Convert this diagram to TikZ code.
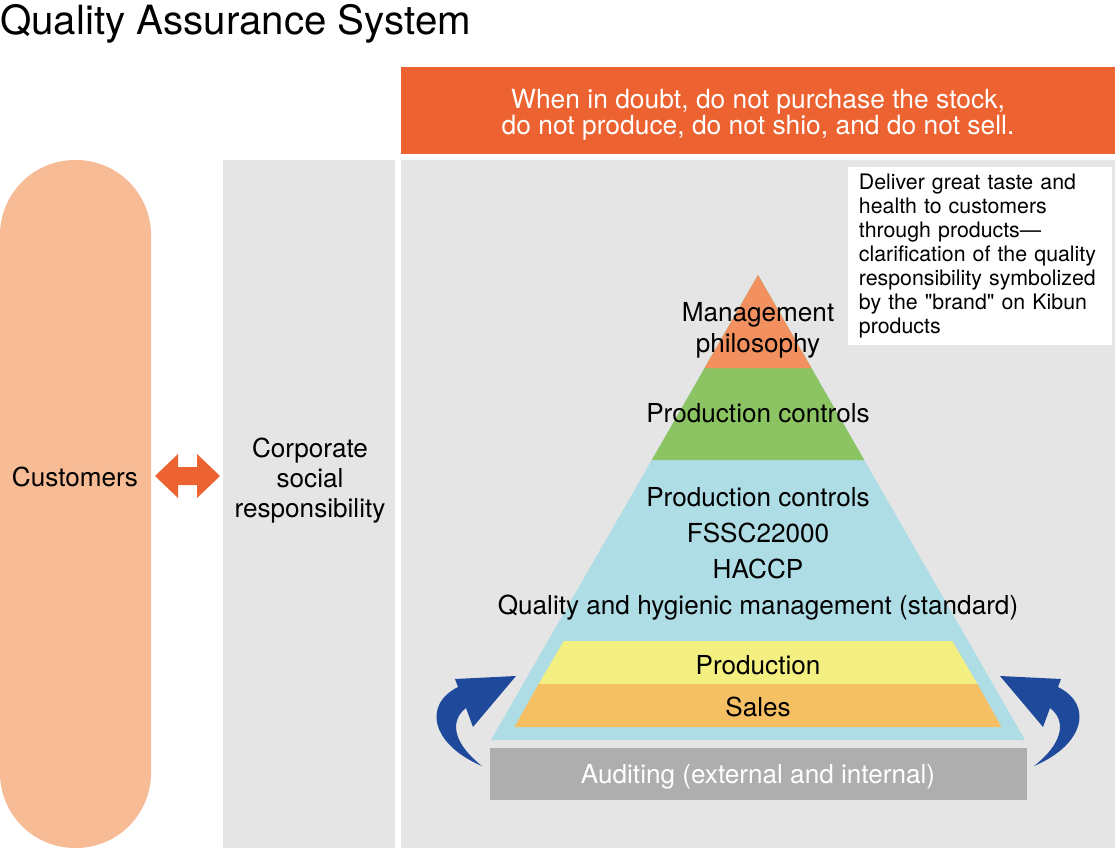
\documentclass[tikz,border=0pt]{standalone}
\usepackage{fontspec}
\setmainfont{TeX Gyre Heros}
\usetikzlibrary{positioning}

\definecolor{banner}{HTML}{EC6230}
\definecolor{pill}{HTML}{F7BB96}
\definecolor{panel}{HTML}{E5E5E5}
\definecolor{apex}{HTML}{F2915F}
\definecolor{leaf}{HTML}{8CC463}
\definecolor{sky}{HTML}{AEDDE5}
\definecolor{lemon}{HTML}{F3EF80}
\definecolor{amber}{HTML}{F5BF63}
\definecolor{audit}{HTML}{ADAEAD}
\definecolor{navy}{HTML}{1F4A9C}

\begin{document}
\begin{tikzpicture}[
    x=0.75pt, y=-0.75pt,
    lbl/.style={font=\fontsize{19.6}{22.5}\selectfont, align=center, inner sep=0pt, anchor=center},
    layer/.style={lbl, font=\fontsize{19.6}{27}\selectfont},
    whitelbl/.style={lbl, text=white, font=\fontsize{19.8}{19.5}\selectfont},
    notebox/.style={fill=white, anchor=north west, align=left, text width=182pt, inner xsep=8pt,
        minimum height=133.5pt, font=\fontsize{16}{18}\selectfont}
]
\useasboundingbox (0,0) rectangle (1120,848);

% title
\node[font=\fontsize{30.2}{34}\selectfont, anchor=base west, inner sep=0pt] (title) at (0,35) {Quality Assurance System};

% background panels
\fill[banner] (401,67) rectangle (1115,154);
\fill[panel] (223,160) rectangle (395,848);
\fill[panel] (401,160) rectangle (1115,848);
\fill[pill, rounded corners=56.25pt] (0,160) rectangle (151,848);

\node[whitelbl] (motto) at (758,115) {When in doubt, do not purchase the stock,\\do not produce, do not shio, and do not sell.};

% customers and CSR
\node[lbl] (cust) at (75,477) {Customers};
\node[lbl] (csr) at (310,480.5) {Corporate\\social\\responsibility};
\fill[banner] (155,476) -- (178,454) -- (178,467) -- (197,467) -- (197,454) -- (220,476)
    -- (197,498) -- (197,485) -- (178,485) -- (178,498) -- cycle;

% pyramid
\fill[sky] (758,275) -- (1025,740) -- (491,740) -- cycle;
\fill[leaf] (758,275) -- (864.2,460) -- (651.8,460) -- cycle;
\fill[apex] (758,275) -- (811.4,368) -- (704.6,368) -- cycle;
\fill[lemon] (563.8,641) -- (952.2,641) -- (977.4,684) -- (538.6,684) -- cycle;
\fill[amber] (538.6,684) -- (977.4,684) -- (1001.5,727) -- (514.5,727) -- cycle;

\node[lbl, font=\fontsize{19.6}{23.25}\selectfont] (philo) at (758,330.5) {Management\\philosophy};
\node[lbl] (ctrl) at (758,413) {Production controls};
\node[layer] (std) at (758,554) {Production controls\\FSSC22000\\HACCP\\Quality and hygienic management (standard)};
\node[lbl] (prod) at (758,665) {Production};
\node[lbl] (sales) at (758,707) {Sales};

% auditing
\fill[audit] (490,748) rectangle (1027,800);
\node[lbl, text=white] (audit) at (758,777) {Auditing (external and internal)};

% note
\node[notebox] (note) at (848,167) {Deliver great taste and health to customers through products\textemdash clarification of the quality responsibility symbolized by the \textquotedbl brand\textquotedbl{} on Kibun products};

% feedback arrows
\foreach \side in {1,-1} {
  \begin{scope}[shift={({758-758*\side},0)}, xscale=\side]
    \fill[navy] (516,676) -- (473,727) -- (466,708)
        .. controls (448,722) and (455,745) .. (482,766)
        .. controls (432,745) and (422,705) .. (458,687)
        -- (455,679) -- cycle;
  \end{scope}
}

\end{tikzpicture}
\end{document}
